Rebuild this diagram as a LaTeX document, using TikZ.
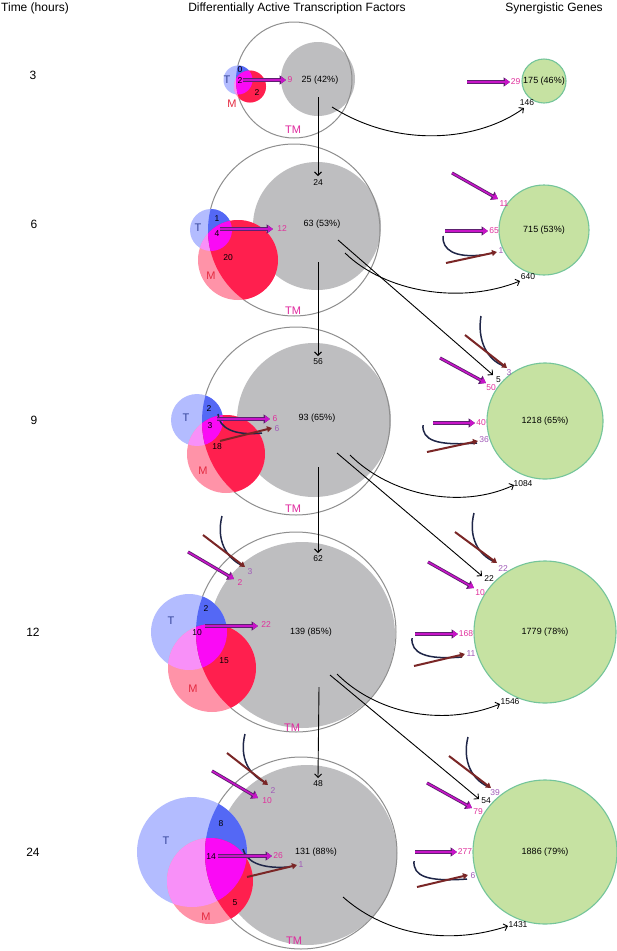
\documentclass[tikz,border=0pt]{standalone}
\usepackage{fontspec}
\setmainfont{Liberation Sans}
\usetikzlibrary{arrows.meta}
\definecolor{grayc}{HTML}{BEBEC0}
\definecolor{outerc}{HTML}{8E8E8E}
\definecolor{Tl}{HTML}{B3BCFF}
\definecolor{Td}{HTML}{5468F5}
\definecolor{Ml}{HTML}{FF93A8}
\definecolor{Md}{HTML}{FF1F4E}
\definecolor{TMl}{HTML}{F890F8}
\definecolor{TMd}{HTML}{FA0AF5}
\definecolor{greenf}{HTML}{C6E2A2}
\definecolor{greens}{HTML}{74C59A}
\definecolor{purpf}{HTML}{C814C8}
\definecolor{purpo}{HTML}{5E2070}
\definecolor{pinkc}{HTML}{E0309C}
\definecolor{violc}{HTML}{A05AB8}
\definecolor{dredc}{HTML}{7A2626}
\definecolor{navyc}{HTML}{1F2648}
\definecolor{tlabc}{HTML}{34449A}
\definecolor{mlabc}{HTML}{E42A40}
\definecolor{tmlabc}{HTML}{E0289E}
\tikzset{
 hdr/.style={font=\fontsize{12}{14}\selectfont, inner sep=0pt},
 num/.style={font=\fontsize{8.5}{9}\selectfont, inner sep=0.3pt},
 pinkl/.style={num, text=pinkc},
 viol/.style={num, text=violc},
 blkl/.style={num, text=black},
 circl/.style={font=\fontsize{9}{10}\selectfont, inner sep=0pt},
 tl/.style={font=\fontsize{11}{12}\selectfont, text=tlabc, inner sep=0pt},
 ml/.style={font=\fontsize{11}{12}\selectfont, text=mlabc, inner sep=0pt},
 tml/.style={font=\fontsize{11}{12}\selectfont, text=tmlabc, inner sep=0pt},
 graydisc/.style={circle, fill=grayc, inner sep=0pt},
 greendisc/.style={circle, fill=greenf, draw=greens, line width=1.1pt, inner sep=0pt, font=\fontsize{9}{10}\selectfont},
 outerring/.style={draw=outerc, line width=1pt},
 blkarrow/.style={draw=black, line width=0.9pt, -{Straight Barb[length=3.5pt,width=7pt]}},
 purparrow/.style={draw=purpf, line width=1.5pt, -{Triangle[length=5pt,width=6.5pt]}, preaction={draw=purpo, line width=3.2pt, -{Triangle[length=6.5pt,width=9pt]}}},
 redarrow/.style={draw=dredc, line width=2pt, -{Triangle[length=5pt,width=6pt]}},
 navyline/.style={draw=navyc, line width=1.5pt},
}
\newcommand{\vennset}[6]{%
 \fill[Tl] (#3) circle[radius=#4];
 \fill[Ml] (#5) circle[radius=#6];
 \begin{scope}\clip (#3) circle[radius=#4]; \fill[TMl] (#5) circle[radius=#6];\end{scope}
 \begin{scope}\clip (#1) circle[radius=#2];
   \fill[Td] (#3) circle[radius=#4];
   \fill[Md] (#5) circle[radius=#6];
   \begin{scope}\clip (#3) circle[radius=#4]; \fill[TMd] (#5) circle[radius=#6];\end{scope}
 \end{scope}}
\newcommand{\labarrow}[7]{%
  \coordinate (#2s) at (#3);
  \coordinate (#2e) at (#4);
  \node[#6] (#2l) at (#5) {#7};
  \draw[#1] (#2s) -- (#2e);}
\newcommand{\navyarc}[5]{%
  \coordinate (#1s) at (#2);
  \coordinate (#1e) at (#5);
  \draw[navyline] (#1s) .. controls (#3) and (#4) .. (#1e);}
\newcommand{\curvearrow}[6]{%
  \coordinate (#1s) at (#2);
  \coordinate (#1e) at (#5);
  \node[blkl] (#1l) at (#6) {#1};
  \draw[blkarrow] (#1s) .. controls (#3) and (#4) .. (#1e);}
\begin{document}
\begin{tikzpicture}[x=1pt,y=-1pt]
\fill[white] (0,0) rectangle (617,951);
\useasboundingbox (0,0) rectangle (617,951);

% headers
\node[hdr, anchor=west] (hTime) at (1,8) {Time (hours)};
\node[hdr] (hTF) at (297,8) {Differentially Active Transcription Factors};
\node[hdr] (hSG) at (554,8) {Synergistic Genes};

% time labels
\node[hdr] (t3) at (33,75) {3};
\node[hdr] (t6) at (34,224) {6};
\node[hdr] (t9) at (34,420) {9};
\node[hdr] (t12) at (33,632) {12};
\node[hdr] (t24) at (33,852) {24};

% ===== circles
% row 3
\node[graydisc, minimum size=74pt] (g3) at (318,79) {};
\draw[outerring] (294,80) circle[radius=58];
\vennset{294,80}{58}{238,80}{14.5}{250,86.5}{16}
% row 6
\node[graydisc, minimum size=128pt] (g6) at (317,226) {};
\draw[outerring] (294,230) circle[radius=86];
\vennset{294,230}{86}{211,230}{21}{238,260}{40}
% row 9
\node[graydisc, minimum size=154pt] (g9) at (314,420) {};
\draw[outerring] (296,421) circle[radius=94];
\vennset{296,421}{94}{197,420}{26}{226,454}{39}
% row 12
\node[graydisc, minimum size=186pt] (g12) at (302,635) {};
\draw[outerring] (296,632) circle[radius=100];
\vennset{296,632}{100}{189,632}{38}{212,668}{44}
% row 24
\node[graydisc, minimum size=180pt] (g24) at (307,855) {};
\draw[outerring] (301,853) circle[radius=96];
\vennset{301,853}{96}{192,852}{55}{210,881}{43}

% green circles
\node[greendisc, minimum size=44pt] (G3) at (544,81) {175 (46\%)};
\node[greendisc, minimum size=90pt] (G6) at (544,230) {715 (53\%)};
\node[greendisc, minimum size=116pt] (G9) at (545,421) {1218 (65\%)};
\node[greendisc, minimum size=142pt] (G12) at (545,632) {1779 (78\%)};
\node[greendisc, minimum size=144pt] (G24) at (545,852) {1886 (79\%)};

% gray circle labels
\node[circl] (g3t) at (320,80) {25 (42\%)};
\node[circl] (g6t) at (322,224) {63 (53\%)};
\node[circl] (g9t) at (317,418) {93 (65\%)};
\node[circl] (g12t) at (311,632) {139 (85\%)};
\node[circl] (g24t) at (316,852) {131 (88\%)};

% venn labels
\node[tl] (T3) at (227,80) {T};
\node[ml] (M3) at (232,104) {M};
\node[tml] (TM3) at (293,130) {TM};
\node[blkl] (v3a) at (240,70) {0};
\node[blkl] (v3b) at (240,80.5) {2};
\node[blkl] (v3c) at (257,93) {2};

\node[tl] (T6) at (198,228) {T};
\node[ml] (M6) at (211,276) {M};
\node[tml] (TM6) at (293,311) {TM};
\node[blkl] (v6a) at (217,219) {1};
\node[blkl] (v6b) at (217,234) {4};
\node[blkl] (v6c) at (228,258) {20};

\node[tl] (T9) at (186,418) {T};
\node[ml] (M9) at (203,471) {M};
\node[tml] (TM9) at (293,509) {TM};
\node[blkl] (v9a) at (209,409) {2};
\node[blkl] (v9b) at (210,426) {3};
\node[blkl] (v9c) at (217,447) {18};

\node[tl] (T12) at (171,621) {T};
\node[ml] (M12) at (193,689) {M};
\node[tml] (TM12) at (292,728) {TM};
\node[blkl] (v12a) at (206,609) {2};
\node[blkl] (v12b) at (197,633) {10};
\node[blkl] (v12c) at (224,661) {15};

\node[tl] (T24) at (166,841) {T};
\node[ml] (M24) at (206,917) {M};
\node[tml] (TM24) at (294,941) {TM};
\node[blkl] (v24a) at (221,824) {8};
\node[blkl] (v24b) at (211,857) {14};
\node[blkl] (v24c) at (235,903) {5};

% navy arcs
\navyarc{n6a}{443,236}{442,250}{455,258}{482,255}
\navyarc{n9a}{218,414}{219,428}{234,436}{262,433}
\navyarc{n9b}{481,316}{477,340}{487,360}{504,366}
\navyarc{n9c}{423,425}{422,440}{436,446}{477,443}
\navyarc{n12a}{222,516}{216,540}{226,558}{243,566}
\navyarc{n12b}{474,513}{468,537}{478,555}{495,562}
\navyarc{n12c}{412,638}{411,653}{425,660}{462,657}
\navyarc{n24a}{245,734}{239,758}{249,776}{267,783}
\navyarc{n24b}{243,849}{246,862}{262,869}{288,867}
\navyarc{n24c}{468,737}{462,761}{472,780}{489,787}
\navyarc{n24d}{414,861}{413,876}{427,882}{467,879}

% black curves
\curvearrow{146}{332,107}{400,150}{480,140}{524,108}{527,103}
\curvearrow{640}{345,253}{385,292}{460,305}{520,281}{528,277}
\curvearrow{1084}{350,455}{390,495}{460,510}{514,485}{523,484}
\curvearrow{1546}{337,674}{375,712}{440,728}{500,704}{510,702}
\curvearrow{1431}{343,897}{380,930}{440,948}{508,926}{518,925}

% black straight arrows
\labarrow{blkarrow}{r3d}{318,97}{318,176}{318,182.5}{blkl}{24}
\labarrow{blkarrow}{r6d}{318,262}{318,356}{318,362}{blkl}{56}
\labarrow{blkarrow}{r9d}{318,467}{318,553}{318,559}{blkl}{62}
\labarrow{blkarrow}{r12d}{319,687}{318,778}{318,784}{blkl}{48}
\labarrow{blkarrow}{r6t}{338,240}{493,375}{498.5,380}{blkl}{5}
\labarrow{blkarrow}{r9t}{337,453}{482,576}{489,579}{blkl}{22}
\labarrow{blkarrow}{r12t}{330,675}{479,799}{486,801}{blkl}{54}

% red arrows
\labarrow{redarrow}{r6s}{446,263}{497,252}{501,251}{viol}{1}
\labarrow{redarrow}{r9s}{220,441}{272,428}{277,429}{viol}{6}
\labarrow{redarrow}{r9u}{465,335}{507,368}{509,373}{viol}{3}
\labarrow{redarrow}{r9v}{427,452}{478,441}{484,440}{viol}{36}
\labarrow{redarrow}{r12u}{203,535}{245,567}{250,572}{viol}{3}
\labarrow{redarrow}{r12w}{455,532}{497,563}{503,569}{viol}{22}
\labarrow{redarrow}{r12v}{414,666}{465,654}{471,654}{viol}{11}
\labarrow{redarrow}{r24s}{247,877}{297,865}{301,865}{viol}{1}
\labarrow{redarrow}{r24u}{227,753}{268,785}{273,791}{viol}{2}
\labarrow{redarrow}{r24w}{449,756}{491,788}{495,793}{viol}{39}
\labarrow{redarrow}{r24v}{417,887}{468,875}{473,876}{viol}{6}

% purple arrows
\labarrow{purparrow}{r3p}{243,80}{286,80}{290,80}{pinkl}{9}
\labarrow{purparrow}{r3q}{467,82}{510,82}{515.5,82}{pinkl}{29}
\labarrow{purparrow}{r6p}{220,229}{273,229}{282,228.5}{pinkl}{12}
\labarrow{purparrow}{r6q}{452,173}{498,199}{504,204}{pinkl}{11}
\labarrow{purparrow}{r6r}{445,231}{488,231}{494,231}{pinkl}{65}
\labarrow{purparrow}{r9p}{217,419}{270,419}{275,419}{pinkl}{6}
\labarrow{purparrow}{r9q}{440,358}{486,383}{491,388}{pinkl}{50}
\labarrow{purparrow}{r9r}{433,423}{475,423}{481,423}{pinkl}{40}
\labarrow{purparrow}{r12p}{205,626}{258,626}{266,625}{pinkl}{22}
\labarrow{purparrow}{r12q}{188,552}{234,579}{240,583}{pinkl}{2}
\labarrow{purparrow}{r12r}{428,562}{474,588}{480,593}{pinkl}{10}
\labarrow{purparrow}{r12s}{415,634}{458,634}{466,634}{pinkl}{168}
\labarrow{purparrow}{r24p}{218,856}{272,856}{278,856}{pinkl}{26}
\labarrow{purparrow}{r24q}{212,771}{258,798}{267,801}{pinkl}{10}
\labarrow{purparrow}{r24r}{427,783}{472,808}{478,812}{pinkl}{79}
\labarrow{purparrow}{r24t}{415,852}{457,852}{465,852}{pinkl}{277}
\end{tikzpicture}
\end{document}
